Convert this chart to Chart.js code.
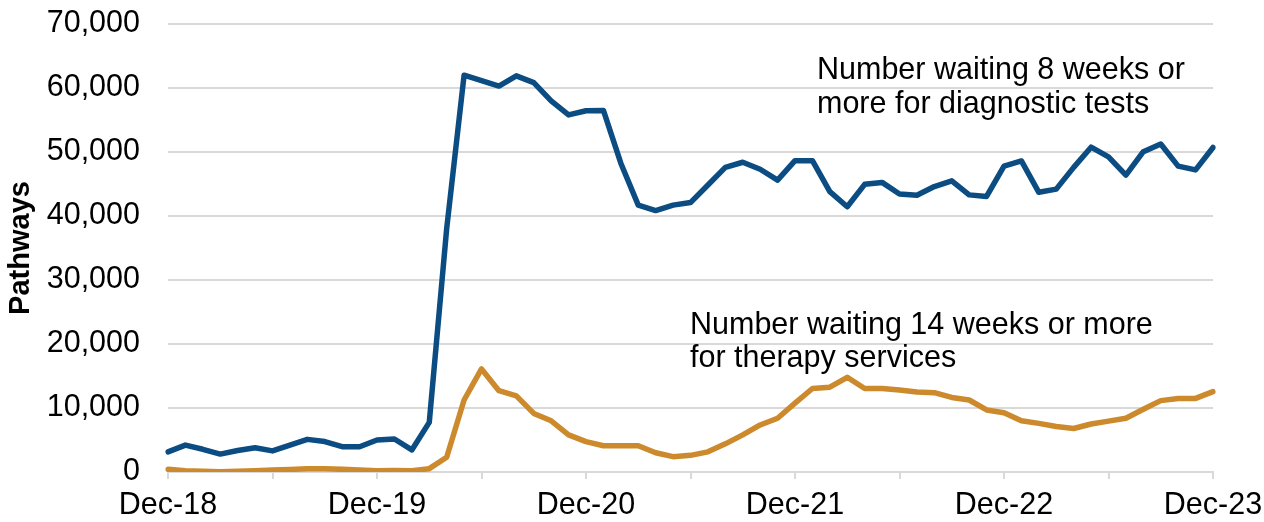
<!DOCTYPE html>
<html>
<head>
<meta charset="utf-8">
<script src="https://cdn.jsdelivr.net/npm/chart.js@4/dist/chart.umd.min.js"></script>
<style>
  body { margin: 0; background: #fff; }
  canvas { display: block; }
</style>
</head>
<body>
<canvas id="waits" width="1264" height="522"></canvas>
<script>
// monthly, Dec-18 .. Dec-23
const months = [
    "Dec-18", "Jan-19", "Feb-19", "Mar-19", "Apr-19", "May-19", "Jun-19", "Jul-19", "Aug-19", "Sep-19", "Oct-19", "Nov-19",
    "Dec-19", "Jan-20", "Feb-20", "Mar-20", "Apr-20", "May-20", "Jun-20", "Jul-20", "Aug-20", "Sep-20", "Oct-20", "Nov-20",
    "Dec-20", "Jan-21", "Feb-21", "Mar-21", "Apr-21", "May-21", "Jun-21", "Jul-21", "Aug-21", "Sep-21", "Oct-21", "Nov-21",
    "Dec-21", "Jan-22", "Feb-22", "Mar-22", "Apr-22", "May-22", "Jun-22", "Jul-22", "Aug-22", "Sep-22", "Oct-22", "Nov-22",
    "Dec-22", "Jan-23", "Feb-23", "Mar-23", "Apr-23", "May-23", "Jun-23", "Jul-23", "Aug-23", "Sep-23", "Oct-23", "Nov-23",
    "Dec-23"
];

const diagnostic8wk = [
    3150, 4200, 3550, 2800, 3350, 3800, 3300, 4200, 5100, 4750, 3950, 3950,
    5000, 5150, 3450, 7750, 38000, 62000, 61150, 60300, 61900, 60850, 58000, 55800,
    56450, 56500, 48250, 41700, 40850, 41700, 42100, 44850, 47600, 48400, 47300, 45600,
    48650, 48650, 43800, 41450, 44950, 45250, 43450, 43250, 44600, 45500, 43300, 43050,
    47800, 48600, 43700, 44200, 47600, 50750, 49250, 46400, 50050, 51250, 47800, 47200,
    50700
];

const therapy14wk = [
    420, 210, 100, 50, 100, 200, 300, 400, 500, 520, 420, 300,
    200, 250, 200, 520, 2300, 11250, 16100, 12700, 11900, 9150, 8000, 5800,
    4750, 4100, 4100, 4100, 3000, 2400, 2600, 3150, 4400, 5800, 7350, 8400,
    10750, 13050, 13250, 14800, 13050, 13050, 12800, 12500, 12400, 11650, 11250, 9700,
    9250, 8000, 7600, 7100, 6800, 7500, 7950, 8400, 9800, 11150, 11500, 11500,
    12550
];

const yTicks = [0, 10000, 20000, 30000, 40000, 50000, 60000, 70000];

const FONT = "'Liberation Sans', Arial, sans-serif";

const notes = {
    id: 'notes',
    afterDraw(chart) {
        const c = chart.ctx;
        c.save();
        c.font = "30.5px " + FONT;
        c.fillStyle = "#000";
        c.textBaseline = "alphabetic";
        c.textAlign = "left";
        c.fillText("Number waiting 8 weeks or", 817, 79);
        c.fillText("more for diagnostic tests", 817, 113);
        c.fillText("Number waiting 14 weeks or more", 690, 334);
        c.fillText("for therapy services", 690, 367);
        c.restore();
    }
};

const ctx = document.getElementById('waits').getContext('2d');
let myChart = new Chart(ctx, {
    type: 'line',
    data: {
        labels: months,
        datasets: [{
            label: 'Number waiting 8 weeks or more for diagnostic tests',
            data: diagnostic8wk,
            borderColor: '#0b4c82',
            borderWidth: 5.5,
            pointRadius: 0,
            tension: 0,
            borderJoinStyle: 'round',
            borderCapStyle: 'round'
        }, {
            label: 'Number waiting 14 weeks or more for therapy services',
            data: therapy14wk,
            borderColor: '#cc8a2c',
            borderWidth: 5.5,
            pointRadius: 0,
            tension: 0,
            borderJoinStyle: 'round',
            borderCapStyle: 'round'
        }]
    },
    options: {
        responsive: false,
        animation: false,
        layout: { padding: { top: 24, right: 51, bottom: 0, left: 0 } },
        plugins: {
            legend: { display: false },
            tooltip: { enabled: false }
        },
        scales: {
            x: {
                offset: false,
                grid: {
                    drawOnChartArea: false,
                    drawTicks: true,
                    tickLength: 7,
                    color: '#d9d9d9',
                    lineWidth: 2
                },
                border: { display: true, color: '#d9d9d9', width: 2 },
                ticks: {
                    autoSkip: false,
                    maxRotation: 0,
                    padding: 8,
                    color: '#000',
                    font: { family: FONT, size: 30.5 },
                    callback: function(value, index) {
                        if (index % 12 === 0) return months[index];
                        if (index % 6 === 0) return '';
                        return null;
                    }
                },
                afterFit: function(scale) {
                    scale.height = 50;
                    scale.paddingLeft = 0;
                    scale.paddingRight = 0;
                }
            },
            y: {
                min: 0,
                max: 70000,
                afterBuildTicks: function(scale) {
                    scale.ticks = yTicks.map(v => ({ value: v }));
                },
                grid: {
                    color: '#d9d9d9',
                    lineWidth: 2,
                    drawTicks: false
                },
                border: { display: false },
                ticks: {
                    padding: 28,
                    color: '#000',
                    font: { family: FONT, size: 30.5 },
                    callback: v => v.toLocaleString('en-US')
                },
                title: {
                    display: true,
                    text: 'Pathways',
                    color: '#000',
                    font: { family: FONT, size: 29, weight: 'bold' },
                    padding: { top: 4, bottom: 0 }
                },
                afterFit: function(scale) {
                    scale.width = 168;
                    scale.paddingTop = 0;
                    scale.paddingBottom = 0;
                }
            }
        }
    },
    plugins: [notes]
});
</script>
</body>
</html>
